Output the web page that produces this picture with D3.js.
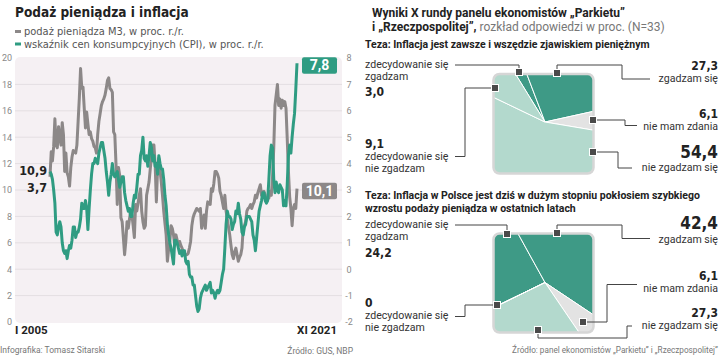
<!DOCTYPE html>
<html>
<head>
<meta charset="utf-8">
<script src="https://cdn.jsdelivr.net/npm/d3@7"></script>
<style>
  body { margin: 0; background: #fff; }
  svg { display: block; font-family: Roboto, "Noto Sans", sans-serif; }
  .narrow { font-family: "Liberation Sans Narrow", "DejaVu Sans Condensed", Roboto, sans-serif; }
</style>
</head>
<body>
<svg id="chart" width="721" height="362"></svg>
<script>
// monthly, I 2005 .. XI 2021
var m3 = [
  11.0,12.9,12.2,13.3,15.4,13.4,13.2,14.8,14.0,13.4,15.1,14.2,
  11.4,12.8,11.3,11.0,10.3,11.7,12.5,13.0,12.9,12.8,13.4,15.2,
  17.0,19.2,17.7,17.8,16.2,14.7,15.9,15.0,14.2,14.4,13.9,13.7,
  13.3,13.2,12.8,14.2,15.2,15.8,16.4,16.7,16.9,17.2,17.7,18.3,
  18.5,17.7,17.6,17.4,14.4,14.2,11.9,8.9,11.7,11.1,7.9,7.6,
  6.4,5.1,6.1,7.6,7.1,7.8,8.4,8.1,7.3,6.4,8.9,8.4,
  9.0,9.6,10.1,8.4,7.6,7.1,7.3,9.6,10.1,10.6,11.6,12.5,
  13.4,13.4,11.9,9.1,11.7,12.4,11.5,10.6,9.6,8.4,7.5,6.6,
  4.6,5.5,6.1,7.3,7.1,6.6,5.8,6.6,6.2,5.8,6.1,5.8,
  5.6,5.3,5.1,5.1,5.1,5.2,5.6,6.1,7.3,7.9,8.2,8.4,
  8.6,8.5,8.4,8.6,7.1,7.6,8.1,7.1,8.4,9.1,9.0,8.9,
  10.1,9.9,10.5,11.4,11.4,11.2,10.9,9.9,9.6,9.1,8.6,9.6,
  8.4,7.8,7.2,6.6,5.8,5.1,4.8,5.3,5.6,5.1,4.6,4.9,
  5.1,5.6,7.1,7.3,7.6,8.4,8.6,8.7,8.9,8.6,8.9,9.1,
  9.6,9.4,9.8,10.1,10.4,9.6,9.8,9.9,9.6,9.1,9.3,9.4,
  9.9,9.6,11.0,13.2,16.4,17.2,18.0,16.4,16.9,16.2,16.8,16.4,
  16.7,16.2,13.9,11.4,9.5,8.6,7.3,8.6,8.9,8.6,10.1
];
var cpi = [
  3.7,3.6,3.4,3.0,2.5,1.4,1.3,1.6,1.8,1.6,1.0,0.7,
  0.6,0.7,0.4,0.7,0.9,0.8,1.1,1.6,1.6,1.2,1.4,1.4,
  1.6,1.9,2.5,2.3,2.3,2.6,2.3,1.5,2.3,3.0,3.6,4.0,
  4.0,4.2,4.1,4.0,4.4,4.6,4.8,4.8,4.5,4.2,3.7,3.3,
  2.8,3.3,3.6,4.0,3.6,3.5,3.6,3.7,3.4,3.1,3.3,3.5,
  3.5,2.9,2.6,2.4,2.2,2.3,2.0,2.0,2.5,2.8,2.7,3.1,
  3.6,3.6,4.3,4.5,5.0,4.2,4.1,4.3,3.9,4.3,4.8,4.6,
  4.1,4.3,3.9,4.0,3.6,4.3,4.0,3.8,3.8,3.4,2.8,2.4,
  1.7,1.3,1.0,0.8,0.5,0.2,1.1,1.1,1.0,0.8,0.6,0.7,
  0.5,0.7,0.7,0.3,0.2,0.3,-0.2,-0.3,-0.3,-0.6,-0.6,-1.0,
  -1.4,-1.6,-1.5,-1.1,-0.9,-0.8,-0.7,-0.6,-0.8,-0.7,-0.6,-0.5,
  -0.9,-0.8,-0.9,-1.1,-0.9,-0.8,-0.9,-0.8,-0.5,-0.2,0.0,0.8,
  1.7,2.2,2.0,2.0,1.9,1.5,1.7,1.8,2.2,2.1,2.5,2.1,
  1.9,1.4,1.3,1.6,1.7,2.0,2.0,2.0,1.9,1.8,1.3,1.1,
  0.7,1.2,1.7,2.2,2.4,2.6,2.9,2.9,2.6,2.5,2.6,3.4,
  4.3,4.7,4.6,3.4,2.9,3.3,3.0,2.9,3.2,3.1,3.0,2.4,
  2.6,2.4,3.2,4.3,4.7,4.4,5.0,5.5,5.9,6.8,7.8
];
var leftTicks = [0, 2, 4, 6, 8, 10, 12, 14, 16, 18, 20];
var rightTicks = [-2, -1, 0, 1, 2, 3, 4, 5, 6, 7, 8];
var firstLabel = "I 2005", lastLabel = "XI 2021";
var m3First = "10,9", cpiFirst = "3,7";

var answers = [
  ["zdecydowanie się", "zgadzam"],
  ["zgadzam się"],
  ["nie mam zdania"],
  ["nie zgadzam się"],
  ["zdecydowanie się", "nie zgadzam"]
];
var thesis1 = [3.0, 27.3, 6.1, 54.4, 9.1];
var thesis2 = [24.2, 42.4, 6.1, 27.3, 0];

var GREEN = "#2f9c82", GRAY = "#8c8888";
var fmt = function (v) { return String(v.toFixed(1)).replace(".", ","); };

var svg = d3.select("#chart");

// ---------- left: line chart ----------
var x = d3.scaleLinear().domain([0, m3.length - 1]).range([50, 297]),
    yL = d3.scaleLinear().domain([0, 20]).range([322, 58]),
    yR = d3.scaleLinear().domain([-2, 8]).range([322, 58]);

svg.append("text").attr("class", "narrow").attr("x", 15).attr("y", 17)
  .attr("font-size", 13.5).attr("font-weight", "bold").attr("fill", "#222")
  .text("Podaż pieniądza i inflacja");

[["podaż pieniądza M3, w proc. r./r.", GRAY], ["wskaźnik cen konsumpcyjnych (CPI), w proc. r./r.", GREEN]]
  .forEach(function (d, i) {
    var yy = 35 + i * 12.5;
    svg.append("line").attr("x1", 15).attr("x2", 21).attr("y1", yy - 3.5).attr("y2", yy - 3.5)
      .attr("stroke", d[1]).attr("stroke-width", 3);
    svg.append("text").attr("class", "narrow").attr("x", 24).attr("y", yy)
      .attr("font-size", 11).attr("fill", "#555").text(d[0]);
  });

svg.append("rect").attr("x", 15).attr("y", 57).attr("width", 327).attr("height", 266)
  .attr("rx", 5).attr("fill", "#f5f0f3");

svg.append("g").selectAll("line").data(leftTicks.slice(1, -1)).join("line")
  .attr("x1", 15).attr("x2", 342)
  .attr("y1", function (d) { return yL(d); }).attr("y2", function (d) { return yL(d); })
  .attr("stroke", "#e4dee2").attr("stroke-width", 1);

var axL = svg.append("g").attr("transform", "translate(12,0)")
  .call(d3.axisLeft(yL).tickValues(leftTicks).tickSize(0).tickPadding(0));
var axR = svg.append("g").attr("transform", "translate(344,0)")
  .call(d3.axisRight(yR).tickValues(rightTicks).tickSize(0).tickPadding(0).tickFormat(function (d) { return d; }));
[axL, axR].forEach(function (a) {
  a.select(".domain").remove();
  a.selectAll("text").attr("fill", "#8a8a8a").attr("font-size", 9)
    .attr("font-family", "Roboto, sans-serif");
});
axR.selectAll("text").attr("text-anchor", "middle").attr("x", 5);

var lineM3 = d3.line().x(function (d, i) { return x(i); }).y(function (d) { return yL(d); });
var lineCpi = d3.line().x(function (d, i) { return x(i); }).y(function (d) { return yR(d); });

svg.append("path").attr("d", lineM3(m3)).attr("fill", "none").attr("stroke", GRAY)
  .attr("stroke-width", 3).attr("stroke-linejoin", "round");
svg.append("path").attr("d", lineCpi(cpi)).attr("fill", "none").attr("stroke", GREEN)
  .attr("stroke-width", 3).attr("stroke-linejoin", "round");

svg.append("text").attr("x", 47).attr("y", 175).attr("text-anchor", "end").attr("class", "narrow")
  .attr("font-size", 12.5).attr("font-weight", "bold").attr("fill", "#222").text(m3First);
svg.append("text").attr("x", 47).attr("y", 191.5).attr("text-anchor", "end").attr("class", "narrow")
  .attr("font-size", 12.5).attr("font-weight", "bold").attr("fill", "#222").text(cpiFirst);

function endBox(yc, color, label) {
  svg.append("rect").attr("x", 302).attr("y", yc - 8).attr("width", 35).attr("height", 16.5)
    .attr("rx", 2).attr("fill", color);
  svg.append("text").attr("x", 319.5).attr("y", yc + 5).attr("text-anchor", "middle")
    .attr("font-size", 14).attr("font-weight", "bold").attr("fill", "#fff").text(label);
}
endBox(yR(cpi[cpi.length - 1]) + 2, GREEN, fmt(cpi[cpi.length - 1]));
endBox(yL(m3[m3.length - 1]) + 2, GRAY, fmt(m3[m3.length - 1]));

svg.append("text").attr("x", 15).attr("y", 333.5).attr("font-size", 11.5).attr("font-weight", "bold")
  .attr("fill", "#222").text(firstLabel);
svg.append("text").attr("x", 337).attr("y", 333.5).attr("text-anchor", "end").attr("font-size", 11.5)
  .attr("font-weight", "bold").attr("fill", "#222").text(lastLabel);
svg.append("text").attr("x", 0).attr("y", 353).attr("font-size", 8.5).attr("fill", "#777")
  .text("Infografika: Tomasz Sitarski");
svg.append("text").attr("x", 353).attr("y", 354).attr("text-anchor", "end").attr("font-size", 8.5)
  .attr("fill", "#777").text("Źródło: GUS, NBP");

// ---------- right: panel ----------
var t1 = svg.append("text").attr("x", 372).attr("y", 17).attr("font-size", 12).attr("font-weight", "bold").attr("fill", "#222");
t1.text("Wyniki X rundy panelu ekonomistów „Parkietu”");
var t2 = svg.append("text").attr("x", 372).attr("y", 30.5).attr("font-size", 12).attr("fill", "#222");
t2.append("tspan").attr("font-weight", "bold").text("i „Rzeczpospolitej”,");
t2.append("tspan").attr("fill", "#777").text(" rozkład odpowiedzi w proc. (N=33)");

svg.append("text").attr("x", 365).attr("y", 47.5).attr("font-size", 10.5).attr("font-weight", "bold")
  .attr("fill", "#222").text("Teza: Inflacja jest zawsze i wszędzie zjawiskiem pieniężnym");
svg.append("text").attr("x", 365).attr("y", 198.5).attr("font-size", 10.5).attr("font-weight", "bold")
  .attr("fill", "#222").text("Teza: Inflacja w Polsce jest dziś w dużym stopniu pokłosiem szybkiego");
svg.append("text").attr("x", 365).attr("y", 211.5).attr("font-size", 10.5).attr("font-weight", "bold")
  .attr("fill", "#222").text("wzrostu podaży pieniądza w ostatnich latach");

var sliceColors = ["#3e9a86", "#3e9a86", "#e3e3e3", "#b3d9cd", "#b3d9cd"];

// label placement for each answer: number position, text lines, marker and leader
var layout1 = [
  { anchor: "start", tx: 365, ty: [68, 80], ny: 95.5, marker: [519, 72], path: [[455, 65], [519, 65], [519, 72]] },
  { anchor: "end", tx: 718, ty: [82], ny: 70, marker: [557, 73], path: [[557, 73], [557, 65], [622, 65], [622, 79], [650, 79]] },
  { anchor: "end", tx: 718, ty: [130], ny: 118, marker: [593, 120], path: [[593, 120], [625, 120], [625, 125.5], [637, 125.5]] },
  { anchor: "end", tx: 718, ty: [171], ny: 158, marker: [593, 152], path: [[593, 152], [618, 152], [618, 168], [632, 168]] },
  { anchor: "start", tx: 365, ty: [159.5, 171.5], ny: 148, marker: [495, 88], path: [[455, 156.5], [465, 156.5], [465, 88], [495, 88]] }
];
var layout2 = [
  { anchor: "start", tx: 365, ty: [228, 240], ny: 256.5, marker: [507, 234], path: [[455, 225], [507, 225], [507, 234]] },
  { anchor: "end", tx: 718, ty: [242.5], ny: 229, marker: [557, 233], path: [[557, 233], [557, 225], [622, 225], [622, 238.5], [650, 238.5]] },
  { anchor: "end", tx: 718, ty: [291.5], ny: 280, marker: [583, 322], path: [[583, 322], [607, 322], [607, 284.5], [637, 284.5]] },
  { anchor: "end", tx: 718, ty: [329], ny: 317, marker: [538, 330], path: [[538, 330], [538, 338], [627, 338], [627, 326], [632, 326]] },
  { anchor: "start", tx: 365, ty: [319, 331], ny: 307, marker: [497, 305], path: [[455, 316.5], [465, 316.5], [465, 305], [497, 305]] }
];

function drawPanel(values, layout, box, center, startDeg, id) {
  var g = svg.append("g");
  g.append("clipPath").attr("id", id).append("rect")
    .attr("x", box[0]).attr("y", box[1]).attr("width", box[2]).attr("height", box[3]).attr("rx", 6);
  var pie = d3.pie().sort(null)
    .startAngle(startDeg * Math.PI / 180).endAngle(startDeg * Math.PI / 180 + 2 * Math.PI);
  var arc = d3.arc().innerRadius(0).outerRadius(90);
  g.append("g").attr("clip-path", "url(#" + id + ")")
    .append("g").attr("transform", "translate(" + center[0] + "," + center[1] + ")")
    .selectAll("path").data(pie(values)).join("path")
      .attr("d", arc).attr("fill", function (d, i) { return sliceColors[i]; })
      .attr("stroke", "#fff").attr("stroke-width", 1);
  g.append("rect").attr("x", box[0]).attr("y", box[1]).attr("width", box[2]).attr("height", box[3])
    .attr("rx", 6).attr("fill", "none").attr("stroke", "#d6d6d6").attr("stroke-width", 2.5);

  var maxV = d3.max(values);
  layout.forEach(function (L, i) {
    g.append("path").attr("d", d3.line()(L.path)).attr("fill", "none")
      .attr("stroke", "#444").attr("stroke-width", 1);
    g.append("rect").attr("x", L.marker[0] - 3.5).attr("y", L.marker[1] - 3.5)
      .attr("width", 7).attr("height", 7).attr("fill", "#4a4a4a").attr("stroke", "#fff").attr("stroke-width", 1);
    answers[i].forEach(function (s, k) {
      g.append("text").attr("x", L.tx).attr("y", L.ty[k]).attr("text-anchor", L.anchor)
        .attr("font-size", 10.6).attr("fill", "#333").text(s);
    });
    var v = values[i];
    g.append("text").attr("x", L.tx).attr("y", L.ny).attr("text-anchor", L.anchor)
      .attr("font-size", v === maxV ? 17 : 12).attr("font-weight", "bold").attr("fill", "#222")
      .attr("class", "narrow")
      .text(v === 0 ? "0" : fmt(v));
  });
}

drawPanel(thesis1, layout1, [493.5, 74, 100, 99.5], [545, 122], -31.6, "clipA");
drawPanel(thesis2, layout2, [493.5, 233.5, 100, 99], [545, 282.5], -116, "clipB");

svg.append("text").attr("x", 718).attr("y", 352.5).attr("text-anchor", "end").attr("font-size", 8.2)
  .attr("fill", "#777").text("Źródło: panel ekonomistów „Parkietu” i „Rzeczpospolitej”");
</script>
</body>
</html>
